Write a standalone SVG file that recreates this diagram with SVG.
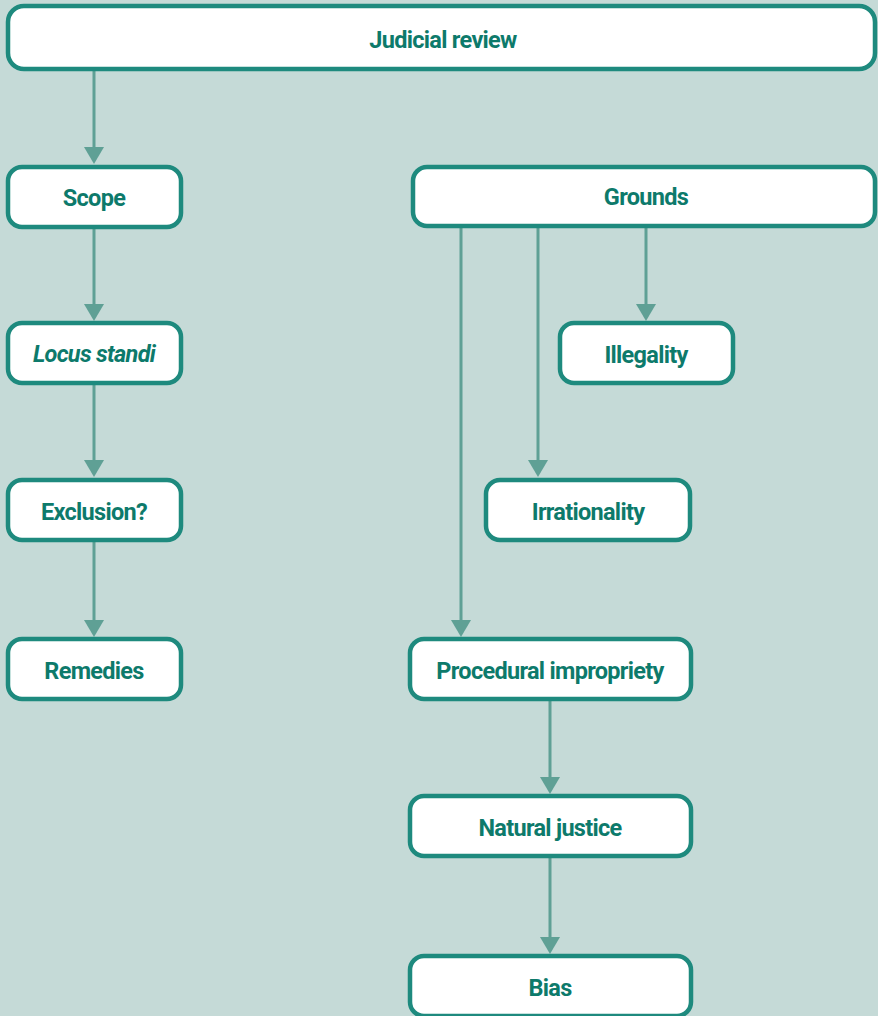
<svg xmlns="http://www.w3.org/2000/svg" width="878" height="1016" viewBox="0 0 878 1016">
<defs>
<style>
.box{fill:#ffffff;stroke:#1e8a7e;stroke-width:4.5}
.lbl{font-family:Roboto,"Liberation Sans",sans-serif;font-weight:bold;font-size:23.5px;fill:#0d7a6b;text-anchor:middle;letter-spacing:-0.7px}
.it{font-style:italic}
.con{stroke:#5fa095;stroke-width:3;fill:none}
.ah{fill:#5fa095}
</style>
</defs>
<rect width="878" height="1016" fill="#c5dad7"/>
<g id="connectors">
<line class="con" x1="94" y1="70" x2="94" y2="150"/>
<polygon class="ah" points="84,147 104,147 94,164"/>
<line class="con" x1="94" y1="228" x2="94" y2="306"/>
<polygon class="ah" points="84,304 104,304 94,321"/>
<line class="con" x1="94" y1="384" x2="94" y2="462"/>
<polygon class="ah" points="84,460 104,460 94,477"/>
<line class="con" x1="94" y1="541" x2="94" y2="622"/>
<polygon class="ah" points="84,620 104,620 94,637"/>
<line class="con" x1="646" y1="228" x2="646" y2="306"/>
<polygon class="ah" points="636,304 656,304 646,321"/>
<line class="con" x1="538" y1="228" x2="538" y2="462"/>
<polygon class="ah" points="528,460 548,460 538,477"/>
<line class="con" x1="461" y1="228" x2="461" y2="622"/>
<polygon class="ah" points="451,620 471,620 461,637"/>
<line class="con" x1="550" y1="700" x2="550" y2="780"/>
<polygon class="ah" points="540,777 560,777 550,794"/>
<line class="con" x1="550" y1="857" x2="550" y2="940"/>
<polygon class="ah" points="540,937 560,937 550,954"/>
</g>
<g id="judicial-review"><rect class="box" x="8" y="6" width="867" height="63" rx="16"/><text class="lbl" x="443" y="48">Judicial review</text></g>
<g id="scope"><rect class="box" x="8" y="167" width="173" height="60" rx="14"/><text class="lbl" x="94" y="206">Scope</text></g>
<g id="grounds"><rect class="box" x="413" y="167" width="462" height="59" rx="14"/><text class="lbl" x="646" y="205">Grounds</text></g>
<g id="locus-standi"><rect class="box" x="8" y="323" width="173" height="60" rx="14"/><text class="lbl it" x="94" y="362">Locus standi</text></g>
<g id="illegality"><rect class="box" x="560" y="323" width="173" height="60" rx="14"/><text class="lbl" x="646" y="363">Illegality</text></g>
<g id="exclusion"><rect class="box" x="8" y="480" width="173" height="60" rx="14"/><text class="lbl" x="94" y="520">Exclusion?</text></g>
<g id="irrationality"><rect class="box" x="486" y="480" width="204" height="60" rx="14"/><text class="lbl" x="588" y="520">Irrationality</text></g>
<g id="remedies"><rect class="box" x="8" y="639" width="173" height="60" rx="14"/><text class="lbl" x="94" y="679">Remedies</text></g>
<g id="procedural-impropriety"><rect class="box" x="410" y="639" width="281" height="60" rx="14"/><text class="lbl" x="550" y="679">Procedural impropriety</text></g>
<g id="natural-justice"><rect class="box" x="410" y="796" width="281" height="60" rx="14"/><text class="lbl" x="550" y="836">Natural justice</text></g>
<g id="bias"><rect class="box" x="410" y="956" width="281" height="60" rx="14"/><text class="lbl" x="550" y="996">Bias</text></g>
</svg>
